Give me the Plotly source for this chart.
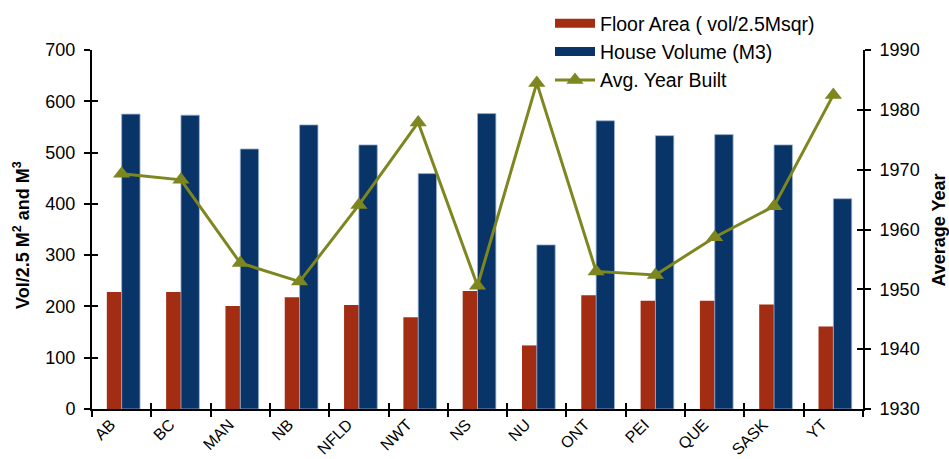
import plotly.graph_objects as go

# Provinces / territories
provinces = ["AB", "BC", "MAN", "NB", "NFLD", "NWT", "NS", "NU", "ONT", "PEI", "QUE", "SASK", "YT"]

# Floor area expressed as volume / 2.5 m
floor_area = [228, 228, 201, 218, 203, 179, 230, 124, 222, 211, 211, 204, 161]
# House volume (m3)
house_volume = [575, 573, 507, 554, 515, 459, 576, 320, 562, 533, 535, 515, 410]
# Average year of construction
avg_year = [1969.3, 1968.3, 1954.4, 1951.3, 1964.1, 1977.9, 1950.6, 1984.5, 1953.0, 1952.4, 1958.7, 1963.9, 1982.5]

left_ticks = [0, 100, 200, 300, 400, 500, 600, 700]
right_ticks = [1930, 1940, 1950, 1960, 1970, 1980, 1990]

RED = "#A32D13"
BLUE = "#083467"
OLIVE = "#7E861F"
FONT = "Liberation Sans, Arial, sans-serif"

fig = go.Figure()

fig.add_trace(go.Bar(
    x=provinces, y=floor_area, name="Floor Area ( vol/2.5Msqr)",
    marker=dict(color=RED, line=dict(width=0)),
    offset=-0.25, width=0.25, showlegend=False,
))
fig.add_trace(go.Bar(
    x=provinces, y=house_volume, name="House Volume (M3)",
    marker=dict(color=BLUE, line=dict(color="#9DB2CF", width=0.8)),
    offset=0.0, width=0.31, showlegend=False,
))
fig.add_trace(go.Scatter(
    x=provinces, y=avg_year, name="Avg. Year Built", yaxis="y2",
    mode="lines+markers",
    line=dict(color=OLIVE, width=3),
    marker=dict(symbol="triangle-up", size=15, color=OLIVE),
    showlegend=False,
))

# Legend entries drawn as wide swatches
fig.add_trace(go.Scatter(x=[None], y=[None], mode="lines", name="Floor Area ( vol/2.5Msqr)",
                         line=dict(color=RED, width=9)))
fig.add_trace(go.Scatter(x=[None], y=[None], mode="lines", name="House Volume (M3)",
                         line=dict(color=BLUE, width=9)))
fig.add_trace(go.Scatter(x=[None], y=[None], mode="lines+markers", name="Avg. Year Built",
                         line=dict(color=OLIVE, width=3),
                         marker=dict(symbol="triangle-up", size=15, color=OLIVE)))

# Helper traces carrying the inward half of the crossing tick marks
fig.add_trace(go.Scatter(x=[None], y=[None], xaxis="x3", yaxis="y3", showlegend=False, hoverinfo="skip"))
fig.add_trace(go.Scatter(x=[None], y=[None], xaxis="x3", yaxis="y4", showlegend=False, hoverinfo="skip"))

tickfont = dict(family=FONT, size=18, color="black")
xtickfont = dict(family=FONT, size=16, color="black")
titlefont = dict(family=FONT, size=18, color="black")

fig.update_layout(
    width=949, height=459,
    margin=dict(l=92, r=86, t=50, b=49.5, autoexpand=False),
    paper_bgcolor="white", plot_bgcolor="white",
    barmode="overlay",
    font=dict(family=FONT, color="black"),
    xaxis=dict(
        type="category", categoryarray=provinces, range=[-0.5, 12.5], automargin=False,
        tickson="boundaries", ticks="outside", ticklen=6, tickwidth=2, tickcolor="black",
        showline=True, linecolor="black", linewidth=2, showgrid=False,
        tickangle=-45, tickfont=xtickfont, ticklabelshift=-11, ticklabelstandoff=-2,
    ),
    yaxis=dict(
        range=[0, 700], tickvals=left_ticks, ticks="outside", ticklen=6, tickwidth=2,
        tickcolor="black", showline=True, linecolor="black", linewidth=2, showgrid=False,
        zeroline=False, tickfont=tickfont, automargin=False, ticklabelstandoff=5,
    ),
    yaxis2=dict(
        range=[1930, 1990], tickvals=right_ticks, overlaying="y", side="right",
        ticks="outside", ticklen=6, tickwidth=2, tickcolor="black",
        showline=True, linecolor="black", linewidth=2, showgrid=False, zeroline=False,
        tickfont=tickfont, automargin=False, ticklabelstandoff=5,
    ),
    xaxis3=dict(
        overlaying="x", range=[-0.5, 12.5], tickvals=[i - 0.5 for i in range(14)],
        ticks="inside", ticklen=6, tickwidth=2, tickcolor="black", automargin=False,
        showticklabels=False, showline=False, showgrid=False, zeroline=False,
    ),
    yaxis3=dict(
        overlaying="y", range=[0, 700], tickvals=left_ticks, automargin=False,
        ticks="inside", ticklen=6, tickwidth=2, tickcolor="black",
        showticklabels=False, showline=False, showgrid=False, zeroline=False,
    ),
    yaxis4=dict(
        overlaying="y", side="right", range=[1930, 1990], tickvals=right_ticks, automargin=False,
        ticks="inside", ticklen=6, tickwidth=2, tickcolor="black",
        showticklabels=False, showline=False, showgrid=False, zeroline=False,
    ),
    legend=dict(
        xref="container", yref="container",
        x=550 / 949, y=1 - 4 / 459, xanchor="left", yanchor="top",
        font=dict(family=FONT, size=19.5, color="black"),
        bgcolor="rgba(0,0,0,0)", borderwidth=0,
        itemwidth=40,
    ),
    annotations=[
        dict(text="<b>Vol/2.5 M<sup>2</sup> and M<sup>3</sup></b>", xref="paper", yref="paper",
             x=(22 - 92) / 771, y=0.485, xanchor="center", yanchor="middle",
             textangle=-90, showarrow=False, font=titlefont),
        dict(text="<b>Average Year</b>", xref="paper", yref="paper",
             x=(939 - 92) / 771, y=0.497, xanchor="center", yanchor="middle",
             textangle=-90, showarrow=False, font=titlefont),
    ],
)

fig.write_html("out.html")
